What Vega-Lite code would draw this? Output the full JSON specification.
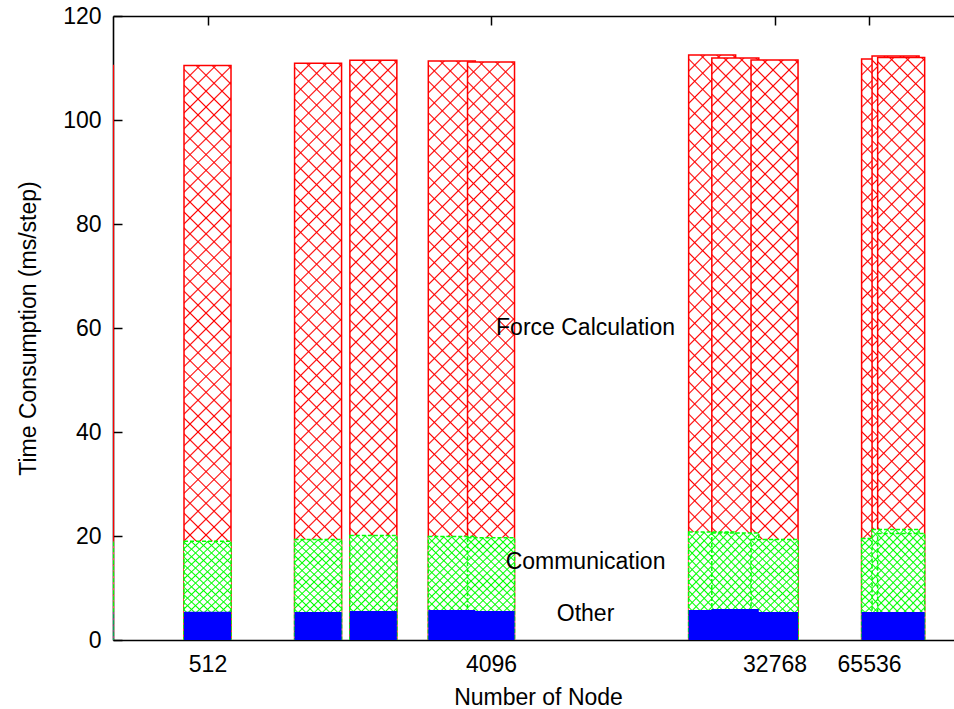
{
 "$schema": "https://vega.github.io/schema/vega-lite/v6.json",
 "width": 841,
 "height": 624,
 "autosize": {"type": "none"},
 "padding": {"left": 113, "top": 16, "right": 0, "bottom": 69},
 "background": "white",
 "params": [
  {"name": "redA", "value": {"gradient": "linear", "x1": 0, "y1": 0, "x2": 0.0888, "y2": 1.0963, "stops": [
   {"offset":0,"color":"#fff"},
   {"offset":0.0226,"color":"#fff"},{"offset":0.025,"color":"#f00"},{"offset":0.0274,"color":"#fff"},
   {"offset":0.0476,"color":"#fff"},{"offset":0.05,"color":"#f00"},{"offset":0.0524,"color":"#fff"},
   {"offset":0.0726,"color":"#fff"},{"offset":0.075,"color":"#f00"},{"offset":0.0774,"color":"#fff"},
   {"offset":0.0976,"color":"#fff"},{"offset":0.1,"color":"#f00"},{"offset":0.1024,"color":"#fff"},
   {"offset":0.1226,"color":"#fff"},{"offset":0.125,"color":"#f00"},{"offset":0.1274,"color":"#fff"},
   {"offset":0.1476,"color":"#fff"},{"offset":0.15,"color":"#f00"},{"offset":0.1524,"color":"#fff"},
   {"offset":0.1726,"color":"#fff"},{"offset":0.175,"color":"#f00"},{"offset":0.1774,"color":"#fff"},
   {"offset":0.1976,"color":"#fff"},{"offset":0.2,"color":"#f00"},{"offset":0.2024,"color":"#fff"},
   {"offset":0.2226,"color":"#fff"},{"offset":0.225,"color":"#f00"},{"offset":0.2274,"color":"#fff"},
   {"offset":0.2476,"color":"#fff"},{"offset":0.25,"color":"#f00"},{"offset":0.2524,"color":"#fff"},
   {"offset":0.2726,"color":"#fff"},{"offset":0.275,"color":"#f00"},{"offset":0.2774,"color":"#fff"},
   {"offset":0.2976,"color":"#fff"},{"offset":0.3,"color":"#f00"},{"offset":0.3024,"color":"#fff"},
   {"offset":0.3226,"color":"#fff"},{"offset":0.325,"color":"#f00"},{"offset":0.3274,"color":"#fff"},
   {"offset":0.3476,"color":"#fff"},{"offset":0.35,"color":"#f00"},{"offset":0.3524,"color":"#fff"},
   {"offset":0.3726,"color":"#fff"},{"offset":0.375,"color":"#f00"},{"offset":0.3774,"color":"#fff"},
   {"offset":0.3976,"color":"#fff"},{"offset":0.4,"color":"#f00"},{"offset":0.4024,"color":"#fff"},
   {"offset":0.4226,"color":"#fff"},{"offset":0.425,"color":"#f00"},{"offset":0.4274,"color":"#fff"},
   {"offset":0.4476,"color":"#fff"},{"offset":0.45,"color":"#f00"},{"offset":0.4524,"color":"#fff"},
   {"offset":0.4726,"color":"#fff"},{"offset":0.475,"color":"#f00"},{"offset":0.4774,"color":"#fff"},
   {"offset":0.4976,"color":"#fff"},{"offset":0.5,"color":"#f00"},{"offset":0.5024,"color":"#fff"},
   {"offset":0.5226,"color":"#fff"},{"offset":0.525,"color":"#f00"},{"offset":0.5274,"color":"#fff"},
   {"offset":0.5476,"color":"#fff"},{"offset":0.55,"color":"#f00"},{"offset":0.5524,"color":"#fff"},
   {"offset":0.5726,"color":"#fff"},{"offset":0.575,"color":"#f00"},{"offset":0.5774,"color":"#fff"},
   {"offset":0.5976,"color":"#fff"},{"offset":0.6,"color":"#f00"},{"offset":0.6024,"color":"#fff"},
   {"offset":0.6226,"color":"#fff"},{"offset":0.625,"color":"#f00"},{"offset":0.6274,"color":"#fff"},
   {"offset":0.6476,"color":"#fff"},{"offset":0.65,"color":"#f00"},{"offset":0.6524,"color":"#fff"},
   {"offset":0.6726,"color":"#fff"},{"offset":0.675,"color":"#f00"},{"offset":0.6774,"color":"#fff"},
   {"offset":0.6976,"color":"#fff"},{"offset":0.7,"color":"#f00"},{"offset":0.7024,"color":"#fff"},
   {"offset":0.7226,"color":"#fff"},{"offset":0.725,"color":"#f00"},{"offset":0.7274,"color":"#fff"},
   {"offset":0.7476,"color":"#fff"},{"offset":0.75,"color":"#f00"},{"offset":0.7524,"color":"#fff"},
   {"offset":0.7726,"color":"#fff"},{"offset":0.775,"color":"#f00"},{"offset":0.7774,"color":"#fff"},
   {"offset":0.7976,"color":"#fff"},{"offset":0.8,"color":"#f00"},{"offset":0.8024,"color":"#fff"},
   {"offset":0.8226,"color":"#fff"},{"offset":0.825,"color":"#f00"},{"offset":0.8274,"color":"#fff"},
   {"offset":0.8476,"color":"#fff"},{"offset":0.85,"color":"#f00"},{"offset":0.8524,"color":"#fff"},
   {"offset":0.8726,"color":"#fff"},{"offset":0.875,"color":"#f00"},{"offset":0.8774,"color":"#fff"},
   {"offset":0.8976,"color":"#fff"},{"offset":0.9,"color":"#f00"},{"offset":0.9024,"color":"#fff"},
   {"offset":0.9226,"color":"#fff"},{"offset":0.925,"color":"#f00"},{"offset":0.9274,"color":"#fff"},
   {"offset":0.9476,"color":"#fff"},{"offset":0.95,"color":"#f00"},{"offset":0.9524,"color":"#fff"},
   {"offset":0.9726,"color":"#fff"},{"offset":0.975,"color":"#f00"},{"offset":0.9774,"color":"#fff"},
   {"offset":1,"color":"#fff"}
  ]}},
  {"name": "redB", "value": {"gradient": "linear", "x1": 0, "y1": 1, "x2": 0.0888, "y2": -0.0963, "stops": [
   {"offset":0,"color":"rgba(255,0,0,0)"},
   {"offset":0.0226,"color":"rgba(255,0,0,0)"},{"offset":0.025,"color":"#f00"},{"offset":0.0274,"color":"rgba(255,0,0,0)"},
   {"offset":0.0476,"color":"rgba(255,0,0,0)"},{"offset":0.05,"color":"#f00"},{"offset":0.0524,"color":"rgba(255,0,0,0)"},
   {"offset":0.0726,"color":"rgba(255,0,0,0)"},{"offset":0.075,"color":"#f00"},{"offset":0.0774,"color":"rgba(255,0,0,0)"},
   {"offset":0.0976,"color":"rgba(255,0,0,0)"},{"offset":0.1,"color":"#f00"},{"offset":0.1024,"color":"rgba(255,0,0,0)"},
   {"offset":0.1226,"color":"rgba(255,0,0,0)"},{"offset":0.125,"color":"#f00"},{"offset":0.1274,"color":"rgba(255,0,0,0)"},
   {"offset":0.1476,"color":"rgba(255,0,0,0)"},{"offset":0.15,"color":"#f00"},{"offset":0.1524,"color":"rgba(255,0,0,0)"},
   {"offset":0.1726,"color":"rgba(255,0,0,0)"},{"offset":0.175,"color":"#f00"},{"offset":0.1774,"color":"rgba(255,0,0,0)"},
   {"offset":0.1976,"color":"rgba(255,0,0,0)"},{"offset":0.2,"color":"#f00"},{"offset":0.2024,"color":"rgba(255,0,0,0)"},
   {"offset":0.2226,"color":"rgba(255,0,0,0)"},{"offset":0.225,"color":"#f00"},{"offset":0.2274,"color":"rgba(255,0,0,0)"},
   {"offset":0.2476,"color":"rgba(255,0,0,0)"},{"offset":0.25,"color":"#f00"},{"offset":0.2524,"color":"rgba(255,0,0,0)"},
   {"offset":0.2726,"color":"rgba(255,0,0,0)"},{"offset":0.275,"color":"#f00"},{"offset":0.2774,"color":"rgba(255,0,0,0)"},
   {"offset":0.2976,"color":"rgba(255,0,0,0)"},{"offset":0.3,"color":"#f00"},{"offset":0.3024,"color":"rgba(255,0,0,0)"},
   {"offset":0.3226,"color":"rgba(255,0,0,0)"},{"offset":0.325,"color":"#f00"},{"offset":0.3274,"color":"rgba(255,0,0,0)"},
   {"offset":0.3476,"color":"rgba(255,0,0,0)"},{"offset":0.35,"color":"#f00"},{"offset":0.3524,"color":"rgba(255,0,0,0)"},
   {"offset":0.3726,"color":"rgba(255,0,0,0)"},{"offset":0.375,"color":"#f00"},{"offset":0.3774,"color":"rgba(255,0,0,0)"},
   {"offset":0.3976,"color":"rgba(255,0,0,0)"},{"offset":0.4,"color":"#f00"},{"offset":0.4024,"color":"rgba(255,0,0,0)"},
   {"offset":0.4226,"color":"rgba(255,0,0,0)"},{"offset":0.425,"color":"#f00"},{"offset":0.4274,"color":"rgba(255,0,0,0)"},
   {"offset":0.4476,"color":"rgba(255,0,0,0)"},{"offset":0.45,"color":"#f00"},{"offset":0.4524,"color":"rgba(255,0,0,0)"},
   {"offset":0.4726,"color":"rgba(255,0,0,0)"},{"offset":0.475,"color":"#f00"},{"offset":0.4774,"color":"rgba(255,0,0,0)"},
   {"offset":0.4976,"color":"rgba(255,0,0,0)"},{"offset":0.5,"color":"#f00"},{"offset":0.5024,"color":"rgba(255,0,0,0)"},
   {"offset":0.5226,"color":"rgba(255,0,0,0)"},{"offset":0.525,"color":"#f00"},{"offset":0.5274,"color":"rgba(255,0,0,0)"},
   {"offset":0.5476,"color":"rgba(255,0,0,0)"},{"offset":0.55,"color":"#f00"},{"offset":0.5524,"color":"rgba(255,0,0,0)"},
   {"offset":0.5726,"color":"rgba(255,0,0,0)"},{"offset":0.575,"color":"#f00"},{"offset":0.5774,"color":"rgba(255,0,0,0)"},
   {"offset":0.5976,"color":"rgba(255,0,0,0)"},{"offset":0.6,"color":"#f00"},{"offset":0.6024,"color":"rgba(255,0,0,0)"},
   {"offset":0.6226,"color":"rgba(255,0,0,0)"},{"offset":0.625,"color":"#f00"},{"offset":0.6274,"color":"rgba(255,0,0,0)"},
   {"offset":0.6476,"color":"rgba(255,0,0,0)"},{"offset":0.65,"color":"#f00"},{"offset":0.6524,"color":"rgba(255,0,0,0)"},
   {"offset":0.6726,"color":"rgba(255,0,0,0)"},{"offset":0.675,"color":"#f00"},{"offset":0.6774,"color":"rgba(255,0,0,0)"},
   {"offset":0.6976,"color":"rgba(255,0,0,0)"},{"offset":0.7,"color":"#f00"},{"offset":0.7024,"color":"rgba(255,0,0,0)"},
   {"offset":0.7226,"color":"rgba(255,0,0,0)"},{"offset":0.725,"color":"#f00"},{"offset":0.7274,"color":"rgba(255,0,0,0)"},
   {"offset":0.7476,"color":"rgba(255,0,0,0)"},{"offset":0.75,"color":"#f00"},{"offset":0.7524,"color":"rgba(255,0,0,0)"},
   {"offset":0.7726,"color":"rgba(255,0,0,0)"},{"offset":0.775,"color":"#f00"},{"offset":0.7774,"color":"rgba(255,0,0,0)"},
   {"offset":0.7976,"color":"rgba(255,0,0,0)"},{"offset":0.8,"color":"#f00"},{"offset":0.8024,"color":"rgba(255,0,0,0)"},
   {"offset":0.8226,"color":"rgba(255,0,0,0)"},{"offset":0.825,"color":"#f00"},{"offset":0.8274,"color":"rgba(255,0,0,0)"},
   {"offset":0.8476,"color":"rgba(255,0,0,0)"},{"offset":0.85,"color":"#f00"},{"offset":0.8524,"color":"rgba(255,0,0,0)"},
   {"offset":0.8726,"color":"rgba(255,0,0,0)"},{"offset":0.875,"color":"#f00"},{"offset":0.8774,"color":"rgba(255,0,0,0)"},
   {"offset":0.8976,"color":"rgba(255,0,0,0)"},{"offset":0.9,"color":"#f00"},{"offset":0.9024,"color":"rgba(255,0,0,0)"},
   {"offset":0.9226,"color":"rgba(255,0,0,0)"},{"offset":0.925,"color":"#f00"},{"offset":0.9274,"color":"rgba(255,0,0,0)"},
   {"offset":0.9476,"color":"rgba(255,0,0,0)"},{"offset":0.95,"color":"#f00"},{"offset":0.9524,"color":"rgba(255,0,0,0)"},
   {"offset":0.9726,"color":"rgba(255,0,0,0)"},{"offset":0.975,"color":"#f00"},{"offset":0.9774,"color":"rgba(255,0,0,0)"},
   {"offset":1,"color":"rgba(255,0,0,0)"}
  ]}},
  {"name": "grnA", "value": {"gradient": "linear", "x1": 0, "y1": 0, "x2": 0.568, "y2": 1.2695, "stops": [
   {"offset":0,"color":"#fff"},
   {"offset":0.041,"color":"#fff"},{"offset":0.05,"color":"#0f0"},{"offset":0.059,"color":"#fff"},
   {"offset":0.091,"color":"#fff"},{"offset":0.1,"color":"#0f0"},{"offset":0.109,"color":"#fff"},
   {"offset":0.141,"color":"#fff"},{"offset":0.15,"color":"#0f0"},{"offset":0.159,"color":"#fff"},
   {"offset":0.191,"color":"#fff"},{"offset":0.2,"color":"#0f0"},{"offset":0.209,"color":"#fff"},
   {"offset":0.241,"color":"#fff"},{"offset":0.25,"color":"#0f0"},{"offset":0.259,"color":"#fff"},
   {"offset":0.291,"color":"#fff"},{"offset":0.3,"color":"#0f0"},{"offset":0.309,"color":"#fff"},
   {"offset":0.341,"color":"#fff"},{"offset":0.35,"color":"#0f0"},{"offset":0.359,"color":"#fff"},
   {"offset":0.391,"color":"#fff"},{"offset":0.4,"color":"#0f0"},{"offset":0.409,"color":"#fff"},
   {"offset":0.441,"color":"#fff"},{"offset":0.45,"color":"#0f0"},{"offset":0.459,"color":"#fff"},
   {"offset":0.491,"color":"#fff"},{"offset":0.5,"color":"#0f0"},{"offset":0.509,"color":"#fff"},
   {"offset":0.541,"color":"#fff"},{"offset":0.55,"color":"#0f0"},{"offset":0.559,"color":"#fff"},
   {"offset":0.591,"color":"#fff"},{"offset":0.6,"color":"#0f0"},{"offset":0.609,"color":"#fff"},
   {"offset":0.641,"color":"#fff"},{"offset":0.65,"color":"#0f0"},{"offset":0.659,"color":"#fff"},
   {"offset":0.691,"color":"#fff"},{"offset":0.7,"color":"#0f0"},{"offset":0.709,"color":"#fff"},
   {"offset":0.741,"color":"#fff"},{"offset":0.75,"color":"#0f0"},{"offset":0.759,"color":"#fff"},
   {"offset":0.791,"color":"#fff"},{"offset":0.8,"color":"#0f0"},{"offset":0.809,"color":"#fff"},
   {"offset":0.841,"color":"#fff"},{"offset":0.85,"color":"#0f0"},{"offset":0.859,"color":"#fff"},
   {"offset":0.891,"color":"#fff"},{"offset":0.9,"color":"#0f0"},{"offset":0.909,"color":"#fff"},
   {"offset":0.941,"color":"#fff"},{"offset":0.95,"color":"#0f0"},{"offset":0.959,"color":"#fff"},
   {"offset":1,"color":"#fff"}
  ]}},
  {"name": "grnB", "value": {"gradient": "linear", "x1": 0, "y1": 1, "x2": 0.568, "y2": -0.2695, "stops": [
   {"offset":0,"color":"rgba(0,255,0,0)"},
   {"offset":0.041,"color":"rgba(0,255,0,0)"},{"offset":0.05,"color":"#0f0"},{"offset":0.059,"color":"rgba(0,255,0,0)"},
   {"offset":0.091,"color":"rgba(0,255,0,0)"},{"offset":0.1,"color":"#0f0"},{"offset":0.109,"color":"rgba(0,255,0,0)"},
   {"offset":0.141,"color":"rgba(0,255,0,0)"},{"offset":0.15,"color":"#0f0"},{"offset":0.159,"color":"rgba(0,255,0,0)"},
   {"offset":0.191,"color":"rgba(0,255,0,0)"},{"offset":0.2,"color":"#0f0"},{"offset":0.209,"color":"rgba(0,255,0,0)"},
   {"offset":0.241,"color":"rgba(0,255,0,0)"},{"offset":0.25,"color":"#0f0"},{"offset":0.259,"color":"rgba(0,255,0,0)"},
   {"offset":0.291,"color":"rgba(0,255,0,0)"},{"offset":0.3,"color":"#0f0"},{"offset":0.309,"color":"rgba(0,255,0,0)"},
   {"offset":0.341,"color":"rgba(0,255,0,0)"},{"offset":0.35,"color":"#0f0"},{"offset":0.359,"color":"rgba(0,255,0,0)"},
   {"offset":0.391,"color":"rgba(0,255,0,0)"},{"offset":0.4,"color":"#0f0"},{"offset":0.409,"color":"rgba(0,255,0,0)"},
   {"offset":0.441,"color":"rgba(0,255,0,0)"},{"offset":0.45,"color":"#0f0"},{"offset":0.459,"color":"rgba(0,255,0,0)"},
   {"offset":0.491,"color":"rgba(0,255,0,0)"},{"offset":0.5,"color":"#0f0"},{"offset":0.509,"color":"rgba(0,255,0,0)"},
   {"offset":0.541,"color":"rgba(0,255,0,0)"},{"offset":0.55,"color":"#0f0"},{"offset":0.559,"color":"rgba(0,255,0,0)"},
   {"offset":0.591,"color":"rgba(0,255,0,0)"},{"offset":0.6,"color":"#0f0"},{"offset":0.609,"color":"rgba(0,255,0,0)"},
   {"offset":0.641,"color":"rgba(0,255,0,0)"},{"offset":0.65,"color":"#0f0"},{"offset":0.659,"color":"rgba(0,255,0,0)"},
   {"offset":0.691,"color":"rgba(0,255,0,0)"},{"offset":0.7,"color":"#0f0"},{"offset":0.709,"color":"rgba(0,255,0,0)"},
   {"offset":0.741,"color":"rgba(0,255,0,0)"},{"offset":0.75,"color":"#0f0"},{"offset":0.759,"color":"rgba(0,255,0,0)"},
   {"offset":0.791,"color":"rgba(0,255,0,0)"},{"offset":0.8,"color":"#0f0"},{"offset":0.809,"color":"rgba(0,255,0,0)"},
   {"offset":0.841,"color":"rgba(0,255,0,0)"},{"offset":0.85,"color":"#0f0"},{"offset":0.859,"color":"rgba(0,255,0,0)"},
   {"offset":0.891,"color":"rgba(0,255,0,0)"},{"offset":0.9,"color":"#0f0"},{"offset":0.909,"color":"rgba(0,255,0,0)"},
   {"offset":0.941,"color":"rgba(0,255,0,0)"},{"offset":0.95,"color":"#0f0"},{"offset":0.959,"color":"rgba(0,255,0,0)"},
   {"offset":1,"color":"rgba(0,255,0,0)"}
  ]}}
 ],
 "datasets": {
  "bars": [
   {"nodes": 216, "total": 110.5, "comm": 19.0, "other": 5.45},
   {"nodes": 512, "total": 110.5, "comm": 19.0, "other": 5.45},
   {"nodes": 1152, "total": 110.9, "comm": 19.35, "other": 5.38},
   {"nodes": 1728, "total": 111.5, "comm": 20.1, "other": 5.57},
   {"nodes": 3072, "total": 111.35, "comm": 19.9, "other": 5.77},
   {"nodes": 4096, "total": 111.17, "comm": 19.67, "other": 5.57},
   {"nodes": 20736, "total": 112.5, "comm": 20.76, "other": 5.77},
   {"nodes": 24576, "total": 111.93, "comm": 20.6, "other": 5.96},
   {"nodes": 32768, "total": 111.54, "comm": 19.35, "other": 5.38},
   {"nodes": 73728, "total": 111.74, "comm": 19.5, "other": 5.38},
   {"nodes": 79600, "total": 112.3, "comm": 21.27, "other": 5.38},
   {"nodes": 82944, "total": 112.0, "comm": 20.5, "other": 5.38}
  ],
  "labels": [
   {"label": "Force Calculation", "nodes": 8192, "value": 60},
   {"label": "Communication", "nodes": 8192, "value": 15},
   {"label": "Other", "nodes": 8192, "value": 5}
  ]
 },
 "data": {"name": "bars"},
 "encoding": {
  "x": {"field": "nodes", "type": "quantitative", "scale": {"type": "log", "base": 2, "domain": [256, 122200], "padding": 0, "nice": false}, "axis": null},
  "y": {"field": "value", "type": "quantitative", "scale": {"domain": [0, 120], "nice": false, "padding": 0},
    "axis": {"orient": "left", "values": [0, 20, 40, 60, 80, 100, 120], "labelPadding": 21, "title": "Time Consumption (ms/step)", "titleX": -85, "titleY": 312, "titleBaseline": "middle", "titleAlign": "center", "titleAngle": -90}}
 },
 "layer": [
  {
   "transform": [{"fold": ["total"], "as": ["part", "value"]}, {"filter": {"field": "nodes", "oneOf": [216, 512, 1152, 1728, 3072, 20736, 73728]}}],
   "mark": {"type": "bar", "orient": "vertical", "size": 47, "clip": true, "fill": {"expr": "redA"}, "strokeWidth": 0},
   "encoding": {
    "x": {"field": "nodes", "type": "quantitative", "scale": {"type": "log", "base": 2, "domain": [256, 122200], "padding": 0, "nice": false},
      "axis": {"orient": "bottom", "values": [512, 4096, 32768, 65536], "format": "d", "labelPadding": 22, "title": "Number of Node", "titleX": 425, "titleY": 64, "titleBaseline": "alphabetic", "titleAlign": "center"}}
   }
  },
  {
   "transform": [{"fold": ["total"], "as": ["part", "value"]}, {"filter": {"field": "nodes", "oneOf": [216, 512, 1152, 1728, 3072, 20736, 73728]}}],
   "mark": {"type": "bar", "orient": "vertical", "size": 47, "clip": true, "fill": {"expr": "redB"}, "stroke": "#ff0000", "strokeWidth": 1.5},
   "encoding": {
    "x": {"field": "nodes", "type": "quantitative", "scale": {"type": "log", "base": 2, "domain": [256, 122200], "padding": 0, "nice": false},
      "axis": {"orient": "top", "values": [512, 4096, 32768, 65536], "labels": false, "title": null}}
   }
  },
  {
   "transform": [{"fold": ["total"], "as": ["part", "value"]}, {"filter": {"field": "nodes", "oneOf": [4096, 24576, 79600]}}],
   "mark": {"type": "bar", "orient": "vertical", "size": 47, "clip": true, "fill": {"expr": "redA"}, "strokeWidth": 0}
  },
  {
   "transform": [{"fold": ["total"], "as": ["part", "value"]}, {"filter": {"field": "nodes", "oneOf": [4096, 24576, 79600]}}],
   "mark": {"type": "bar", "orient": "vertical", "size": 47, "clip": true, "fill": {"expr": "redB"}, "stroke": "#ff0000", "strokeWidth": 1.5}
  },
  {
   "transform": [{"fold": ["total"], "as": ["part", "value"]}, {"filter": {"field": "nodes", "oneOf": [32768, 82944]}}],
   "mark": {"type": "bar", "orient": "vertical", "size": 47, "clip": true, "fill": {"expr": "redA"}, "strokeWidth": 0}
  },
  {
   "transform": [{"fold": ["total"], "as": ["part", "value"]}, {"filter": {"field": "nodes", "oneOf": [32768, 82944]}}],
   "mark": {"type": "bar", "orient": "vertical", "size": 47, "clip": true, "fill": {"expr": "redB"}, "stroke": "#ff0000", "strokeWidth": 1.5}
  },
  {
   "transform": [{"fold": ["comm"], "as": ["part", "value"]}, {"filter": {"field": "nodes", "oneOf": [216, 512, 1152, 1728, 3072, 20736, 73728]}}],
   "mark": {"type": "bar", "orient": "vertical", "size": 47, "clip": true, "fill": {"expr": "grnA"}, "strokeWidth": 0}
  },
  {
   "transform": [{"fold": ["comm"], "as": ["part", "value"]}, {"filter": {"field": "nodes", "oneOf": [216, 512, 1152, 1728, 3072, 20736, 73728]}}],
   "mark": {"type": "bar", "orient": "vertical", "size": 47, "clip": true, "fill": {"expr": "grnB"}, "stroke": "#00ff00", "strokeWidth": 1.5, "strokeDash": [4, 2]}
  },
  {
   "transform": [{"fold": ["comm"], "as": ["part", "value"]}, {"filter": {"field": "nodes", "oneOf": [4096, 24576, 79600]}}],
   "mark": {"type": "bar", "orient": "vertical", "size": 47, "clip": true, "fill": {"expr": "grnA"}, "strokeWidth": 0}
  },
  {
   "transform": [{"fold": ["comm"], "as": ["part", "value"]}, {"filter": {"field": "nodes", "oneOf": [4096, 24576, 79600]}}],
   "mark": {"type": "bar", "orient": "vertical", "size": 47, "clip": true, "fill": {"expr": "grnB"}, "stroke": "#00ff00", "strokeWidth": 1.5, "strokeDash": [4, 2]}
  },
  {
   "transform": [{"fold": ["comm"], "as": ["part", "value"]}, {"filter": {"field": "nodes", "oneOf": [32768, 82944]}}],
   "mark": {"type": "bar", "orient": "vertical", "size": 47, "clip": true, "fill": {"expr": "grnA"}, "strokeWidth": 0}
  },
  {
   "transform": [{"fold": ["comm"], "as": ["part", "value"]}, {"filter": {"field": "nodes", "oneOf": [32768, 82944]}}],
   "mark": {"type": "bar", "orient": "vertical", "size": 47, "clip": true, "fill": {"expr": "grnB"}, "stroke": "#00ff00", "strokeWidth": 1.5, "strokeDash": [4, 2]}
  },
  {
   "transform": [{"fold": ["other"], "as": ["part", "value"]}],
   "mark": {"type": "bar", "orient": "vertical", "size": 47, "clip": true, "fill": "#0000ff", "strokeWidth": 0}
  },
  {
   "data": {"name": "labels"},
   "mark": {"type": "text", "align": "center", "baseline": "middle", "fontSize": 23, "font": "Liberation Sans", "color": "#000000"},
   "encoding": {"text": {"field": "label"}}
  }
 ],
 "resolve": {"axis": {"x": "independent"}},
 "config": {
  "font": "Liberation Sans",
  "view": {"stroke": null},
  "axis": {
   "domainColor": "#000000", "domainWidth": 1.6, "tickColor": "#000000", "tickWidth": 1.5, "tickSize": -9,
   "labelFont": "Liberation Sans", "labelFontSize": 23, "labelColor": "#000000", "labelOverlap": false, "labelFlush": false,
   "titleFont": "Liberation Sans", "titleFontSize": 23, "titleFontWeight": "normal", "titleColor": "#000000",
   "grid": false, "zindex": 1
  }
 }
}
